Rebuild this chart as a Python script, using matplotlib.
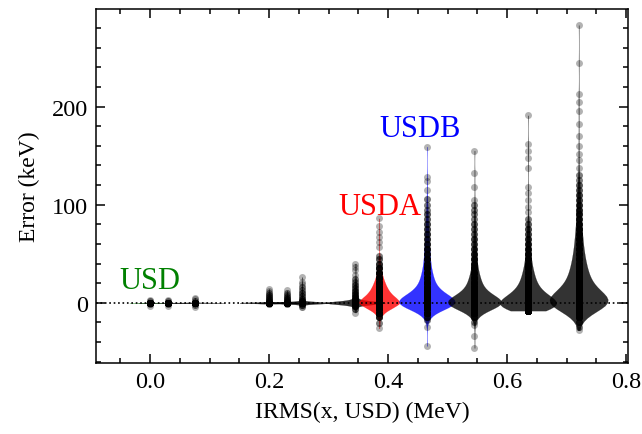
import numpy as np
import matplotlib
matplotlib.use("Agg")
import matplotlib.pyplot as plt
from matplotlib.ticker import MultipleLocator

# ---------------- data ----------------
positions = [0.0, 0.03, 0.075, 0.2, 0.23, 0.255, 0.345, 0.385, 0.465, 0.545, 0.635, 0.72]

# error values (keV) and how many levels sit at each value, one pair per interaction
err_vals_0 = [-3, -1.5, 0, 1.5, 3]
err_cnt_0 = [1, 2, 60, 2, 1]
err_vals_1 = [-3, -1.5, 0, 1.5, 3]
err_cnt_1 = [1, 2, 60, 2, 1]
err_vals_2 = [-4, -2, 0, 2, 4, 5]
err_cnt_2 = [1, 2, 60, 2, 1, 1]
err_vals_3 = [-1, 0, 2, 4, 6, 8, 10, 12, 14]
err_cnt_3 = [2, 100, 5, 4, 3, 3, 2, 1, 1]
err_vals_4 = [-1.5, 0, 2, 4, 6, 8, 10, 12.5]
err_cnt_4 = [2, 100, 5, 4, 3, 2, 2, 1]
err_vals_5 = [-4, -2, 0, 2, 4, 7, 10, 13, 16, 19, 21, 26]
err_cnt_5 = [2, 4, 100, 6, 4, 3, 3, 2, 2, 1, 1, 1]
err_vals_6 = [-10, -6, -3, 0, 3, 6, 9, 12, 15, 18, 21, 24, 28, 33, 36, 40]
err_cnt_6 = [1, 3, 8, 100, 10, 6, 5, 4, 3, 3, 2, 2, 1, 1, 1, 1]
err_vals_7 = [-26, -21, -15, -10, -5, 0, 5, 10, 15, 20, 25, 30, 35, 40, 45, 48, 57, 62, 67, 72, 78, 86]
err_cnt_7 = [1, 2, 6, 22, 60, 100, 75, 50, 36, 26, 18, 12, 8, 5, 3, 2, 1, 1, 1, 1, 1, 1]
err_vals_8 = [-44, -25, -18, -15, -10, -5, 0, 5, 10, 15, 20, 25, 30, 35, 40, 45, 50, 55, 60, 65,
              70, 75, 80, 85, 90, 95, 100, 106, 115, 124, 128, 159]
err_cnt_8 = [1, 1, 2, 5, 18, 58, 100, 72, 45, 30, 22, 18, 15, 12, 10, 9, 8, 7, 6, 5,
             5, 4, 4, 3, 3, 2, 2, 2, 1, 1, 1, 1]
err_vals_9 = [-46, -34, -23, -20, -15, -10, -5, 0, 5, 10, 15, 20, 25, 30, 35, 40, 45, 50, 55, 60,
              65, 70, 75, 80, 85, 90, 95, 100, 105, 118, 132, 155]
err_cnt_9 = [1, 1, 1, 2, 6, 22, 62, 100, 70, 42, 28, 21, 17, 13, 10, 8, 7, 6, 5, 4,
             4, 3, 3, 3, 2, 2, 2, 2, 1, 1, 1, 1]
err_vals_10 = [-8, -5, 0, 5, 10, 15, 20, 25, 30, 35, 40, 45, 50, 55, 60, 65, 70, 75, 80, 85,
               92, 98, 105, 112, 118, 137, 148, 155, 162, 191]
err_cnt_10 = [35, 75, 100, 72, 48, 34, 26, 21, 17, 14, 11, 9, 8, 7, 6, 5, 4, 4, 3, 2,
              1, 1, 1, 1, 1, 1, 1, 1, 1, 1]
err_vals_11 = [-28, -25, -20, -15, -10, -5, 0, 5, 10, 15, 20, 25, 30, 35, 40, 45, 50, 55, 60, 65,
               70, 75, 80, 85, 90, 95, 100, 105, 110, 115, 120, 125, 130, 137, 145, 152, 160, 170,
               182, 195, 205, 213, 244, 283]
err_cnt_11 = [1, 2, 4, 11, 30, 62, 100, 80, 57, 42, 33, 28, 24, 21, 18, 16, 14, 12, 11, 10,
              9, 8, 7, 6, 6, 5, 5, 4, 4, 3, 3, 2, 2, 1, 1, 1, 1, 1,
              1, 1, 1, 1, 1, 1]

err_vals = [err_vals_0, err_vals_1, err_vals_2, err_vals_3, err_vals_4, err_vals_5,
            err_vals_6, err_vals_7, err_vals_8, err_vals_9, err_vals_10, err_vals_11]
err_cnts = [err_cnt_0, err_cnt_1, err_cnt_2, err_cnt_3, err_cnt_4, err_cnt_5,
            err_cnt_6, err_cnt_7, err_cnt_8, err_cnt_9, err_cnt_10, err_cnt_11]

labels = ["USD", "USDA", "USDB"]
label_x = [0.0, 0.386, 0.453]
label_y = [15, 90, 170]

# ---------------- style ----------------
colors = ["green", "black", "black", "black", "black", "black", "black",
          "red", "blue", "black", "black", "black"]
widths = [0.07, 0.1, 0.1, 0.1, 0.1, 0.1, 0.1, 0.068, 0.094, 0.09, 0.095, 0.098]
label_colors = ["green", "red", "blue"]

plt.rcParams["font.family"] = ["Liberation Serif", "DejaVu Serif"]
plt.rcParams["mathtext.fontset"] = "stix"

fig = plt.figure(figsize=(6.42, 4.35), dpi=100)
ax = fig.add_axes([96 / 642, 1 - 364 / 435, 532 / 642, 354 / 435])

datasets = [np.repeat(v, c) for v, c in zip(err_vals, err_cnts)]

parts = ax.violinplot(datasets, positions=positions, widths=widths, bw_method=0.2,
                      showextrema=False, showmedians=False, showmeans=False)
for body, col in zip(parts["bodies"], colors):
    body.set_facecolor(col)
    body.set_edgecolor(col)
    body.set_linewidth(0.15)
    body.set_alpha(0.8)
    body.set_zorder(2)

for pos, d in zip(positions, datasets):
    ax.scatter(np.full(len(d), pos), d, s=25, color="black", alpha=0.3,
               linewidths=0, zorder=3)

ax.axhline(0, color="black", linestyle=":", linewidth=1.2, zorder=4)

for t, x, y, c in zip(labels, label_x, label_y, label_colors):
    ax.text(x, y, t, color=c, fontsize=22, ha="center", va="baseline", zorder=5)

ax.set_xlim(-0.091, 0.803)
ax.set_ylim(-61.4, 299.4)
ax.xaxis.set_major_locator(MultipleLocator(0.2))
ax.xaxis.set_minor_locator(MultipleLocator(0.05))
ax.yaxis.set_major_locator(MultipleLocator(100))
ax.yaxis.set_minor_locator(MultipleLocator(20))
ax.tick_params(which="both", direction="in", top=True, right=True, labelsize=17.5, width=1.1)
ax.tick_params(which="major", length=6.5, pad=6)
ax.tick_params(which="minor", length=3.5)
for sp in ax.spines.values():
    sp.set_linewidth(1.1)

ax.set_xlabel("IRMS(x, USD) (MeV)", fontsize=17, labelpad=6)
ax.set_ylabel("Error (keV)", fontsize=17, labelpad=8)

fig.savefig("out.png", dpi=100)
